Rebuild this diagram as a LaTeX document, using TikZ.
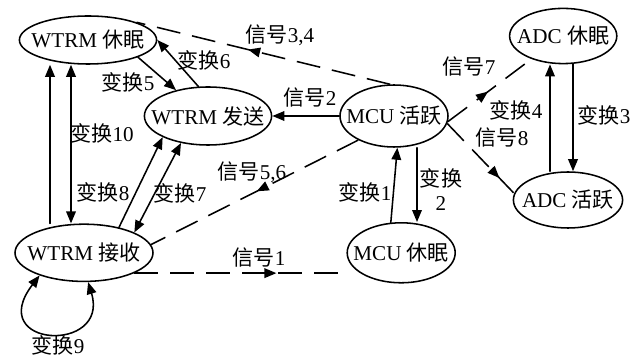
\documentclass[tikz,border=0pt]{standalone}
\usepackage{fontspec}
\setmainfont{Liberation Serif}
\newfontfamily\cjk{Noto Sans CJK SC}
\usetikzlibrary{arrows.meta,shapes.geometric,decorations.markings}
\newcommand{\zh}[1]{{\cjk #1}}

\begin{document}
\begin{tikzpicture}[x=1cm,y=1cm]
\tikzset{
  statenode/.style={ellipse,draw=black,line width=1.1pt,inner xsep=-0.4cm,inner ysep=0pt,font=\fontsize{15}{17}\selectfont},
  labelnode/.style={inner sep=0pt,font=\fontsize{15}{17}\selectfont},
  transedge/.style={draw=black,line width=1.1pt,line cap=round,line join=round},
  directed/.style={transedge,-{Triangle[length=3mm,width=2.4mm]}},
  bidirected/.style={transedge,{Triangle[length=3mm,width=2.4mm]}-{Triangle[length=3mm,width=2.4mm]}},
  signaledge/.style={transedge,line cap=butt,dash pattern=on 0.6cm off 0.3cm,
    postaction={decorate},
    decoration={markings,mark=at position #1 with {\arrow{Triangle[length=3mm,width=2.4mm]}}}}
}
\useasboundingbox (0,0) rectangle (16.05,8.95);
\node[statenode,minimum width=3.43cm,minimum height=1.20cm] (slpW) at (2.20,7.95) {WTRM \zh{休眠}};
\node[statenode,minimum width=3.18cm,minimum height=1.45cm] (txW) at (5.20,6.05) {WTRM \zh{发送}};
\node[statenode,minimum width=3.45cm,minimum height=1.43cm] (rxW) at (2.10,2.63) {WTRM \zh{接收}};
\node[statenode,minimum width=2.70cm,minimum height=1.55cm] (actM) at (9.85,6.05) {MCU \zh{活跃}};
\node[statenode,minimum width=2.70cm,minimum height=1.50cm] (slpM) at (10.03,2.63) {MCU \zh{休眠}};
\node[statenode,minimum width=2.68cm,minimum height=1.38cm] (slpA) at (14.08,8.05) {ADC \zh{休眠}};
\node[statenode,minimum width=2.73cm,minimum height=1.40cm] (actA) at (14.20,3.95) {ADC \zh{活跃}};
% WTRM
\draw[directed] ([xshift=-0.85cm]rxW.north) -- ([xshift=-0.95cm]slpW.south);
\draw[bidirected] ([xshift=-0.425cm]slpW.south) -- ([xshift=-0.325cm]rxW.north);
\draw[directed] (slpW.341) -- (txW.141);
\draw[directed] (txW.108) -- (slpW.east);
\draw[directed] (rxW.36) -- (txW.205);
\draw[bidirected] (txW.225) -- (rxW.22);
\draw[bidirected] (rxW.207) .. controls (-0.4,0.25) and (2.75,0.1) .. (rxW.278);
% MCU
\draw[directed] (actM.west) -- (txW.east);
\draw[signaledge=0.56] (actM.97) -- (slpW.20);
\draw[signaledge=0.49] (actM.214) -- (rxW.7);
\draw[signaledge=0.67] (rxW.338) -- (rxW.338 -| slpM.west);
\draw[directed] (slpM.109) -- (actM.276);
\draw[directed] ([xshift=0.575cm]actM.south) -- ([xshift=0.395cm]slpM.north);
% ADC
\draw[signaledge=0.48] (actM.354) -- (slpA.216);
\draw[signaledge=0.78] (actM.352) -- (actA.173);
\draw[directed] ([xshift=-0.45cm]actA.north) -- ([xshift=-0.33cm]slpA.south);
\draw[directed] ([xshift=0.245cm]slpA.south) -- ([xshift=0.125cm]actA.north);
% labels
\node[labelnode] (lt1) at (9.125,4.15) {\zh{变换}1};
\node[labelnode,align=center] (lt2) at (11.025,4.2) {\zh{变换}\\2};
\node[labelnode] (lt3) at (15.10,6.075) {\zh{变换}3};
\node[labelnode] (lt4) at (12.90,6.20) {\zh{变换}4};
\node[labelnode] (lt5) at (3.20,6.90) {\zh{变换}5};
\node[labelnode] (lt6) at (5.10,7.45) {\zh{变换}6};
\node[labelnode] (lt7) at (4.50,4.125) {\zh{变换}7};
\node[labelnode] (lt8) at (2.575,4.15) {\zh{变换}8};
\node[labelnode] (lt9) at (1.45,0.32) {\zh{变换}9};
\node[labelnode] (lt10) at (2.55,5.625) {\zh{变换}10};
\node[labelnode] (ls1) at (6.475,2.50) {\zh{信号}1};
\node[labelnode] (ls2) at (7.75,6.50) {\zh{信号}2};
\node[labelnode] (ls34) at (7.00,8.075) {\zh{信号}3,4};
\node[labelnode] (ls56) at (6.30,4.65) {\zh{信号}5,6};
\node[labelnode] (ls7) at (11.725,7.275) {\zh{信号}7};
\node[labelnode] (ls8) at (12.55,5.50) {\zh{信号}8};
\end{tikzpicture}
\end{document}
